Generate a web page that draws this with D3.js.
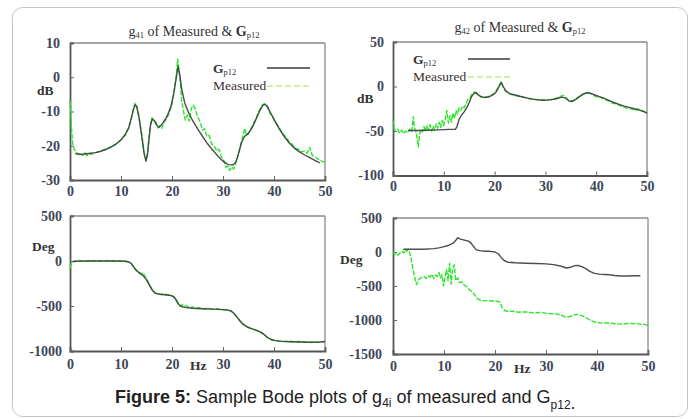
<!DOCTYPE html>
<html>
<head>
<meta charset="utf-8">
<script src="https://cdn.jsdelivr.net/npm/d3@7"></script>
<style>
  body { margin: 0; background: #fff; }
  svg { display: block; }
</style>
</head>
<body>
<svg id="chart" width="696" height="419"></svg>
<script>
// ---- data -------------------------------------------------------------
const freqTicks = [0, 10, 20, 30, 40, 50];

// g41 magnitude (dB): fitted model Gp12 and measured response
const g41MagModel = [[1,-22.3],[2,-22.5],[3,-22.4],[4,-22.2],[5,-22],[6,-21.6],[7,-21.1],[8,-20.4],[9,-19.5],[10,-18.3],[10.8,-16.8],[11.5,-14.8],[12,-12],[12.4,-9.5],[12.8,-8],[13.1,-8.6],[13.5,-11.5],[14,-16.5],[14.5,-22],[14.9,-24.5],[15.2,-22.5],[15.5,-18],[15.8,-14],[16.1,-12.2],[16.5,-12.6],[17,-14],[17.5,-14.6],[18,-13.8],[19,-11.5],[19.8,-8.5],[20.3,-5],[20.8,-0.5],[21.2,3.2],[21.5,1],[21.9,-3.5],[22.5,-7.5],[23.3,-10.5],[24,-12.5],[25,-15],[26,-17.3],[27,-19.5],[28,-21.3],[29,-23],[30,-24.5],[31,-25.5],[32,-25.6],[32.6,-24.5],[33.1,-22],[33.6,-19.2],[34.2,-17.3],[35,-16.4],[35.8,-14.5],[36.5,-12.2],[37.2,-9.8],[37.8,-8.2],[38.2,-7.9],[38.7,-8.5],[39.3,-10.3],[40,-12.3],[41,-15],[42,-17.3],[43,-19.2],[44,-20.7],[45,-21.8],[46,-22.7],[47,-23.5],[48,-24.3],[49,-25]];
const g41MagMeas = [[0,-7],[0.15,-10],[0.3,-15],[0.5,-19],[0.8,-21],[1.2,-21.8],[1.6,-22.6],[2,-22.4],[2.5,-22.8],[3,-21.8],[3.3,-22.9],[3.7,-22.3],[4.2,-22.5],[5,-22],[5.8,-21.7],[6.5,-21.3],[7.3,-20.8],[8,-20.3],[8.8,-19.8],[9.5,-18.9],[10.2,-18],[11,-16.5],[11.6,-14.5],[12,-12.3],[12.4,-9.8],[12.7,-7.6],[13,-8.4],[13.3,-9.8],[13.7,-13],[14.2,-18],[14.6,-22.5],[14.9,-24.3],[15.2,-22],[15.5,-17],[15.8,-13.5],[16.1,-11.8],[16.4,-12.8],[16.8,-13],[17.2,-14.8],[17.6,-14.2],[18,-14.9],[18.5,-13],[19,-12],[19.5,-10.2],[20,-8],[20.4,-4.5],[20.8,0],[21.1,5.3],[21.3,3],[21.6,-1],[21.9,-7],[22.2,-9.5],[22.6,-12.5],[23,-11],[23.4,-12.8],[23.8,-9],[24.2,-8.2],[24.6,-9.5],[25,-11.5],[25.5,-13],[26,-15.5],[26.4,-15],[26.8,-17.2],[27.3,-17],[27.8,-19.5],[28.3,-20.2],[28.8,-21.5],[29.2,-21],[29.7,-23.2],[30.2,-24.5],[30.6,-26.3],[31,-26],[31.3,-27.2],[31.7,-26.2],[32.1,-26.8],[32.5,-25.2],[33,-22.5],[33.5,-19.5],[34,-16.5],[34.3,-15],[34.6,-17],[35.1,-16],[35.7,-14.3],[36.3,-12.6],[37,-10],[37.6,-8.3],[38.1,-7.7],[38.6,-8.4],[39.2,-10.5],[39.8,-11.8],[40.4,-13.5],[41,-14.6],[41.7,-16.5],[42.4,-17.5],[43,-19],[43.6,-19.6],[44.2,-20.8],[44.8,-21],[45.4,-21.8],[46,-21.5],[46.5,-22.2],[47,-20.5],[47.5,-22.8],[48,-23.2],[48.5,-23.8],[49,-24.2],[49.5,-24.6],[50,-24.8]];
const g41MagTicks = [10, 0, -10, -20, -30];

// g42 magnitude (dB)
const g42MagModel = [[3,-49.5],[5,-49.5],[7,-49.2],[9,-48.7],[11,-48.2],[12.3,-48],[12.6,-45],[13,-37],[13.5,-32],[14,-28.5],[14.5,-24],[15,-18],[15.5,-11],[16,-7.5],[16.4,-7],[16.8,-9.5],[17.3,-11.5],[18,-12.5],[18.8,-11.8],[19.5,-10],[20.2,-7],[20.8,-1],[21.3,4.5],[21.7,0],[22.2,-5],[23,-8],[24,-9.5],[25,-11],[26.5,-13],[28,-14.8],[29.5,-15.5],[31,-15],[32.3,-13.5],[33.3,-12],[34,-13],[34.7,-16.5],[35.2,-17],[36,-14.5],[36.8,-11],[37.5,-8.5],[38.2,-7],[38.8,-7.5],[39.5,-9],[40.5,-11],[41.5,-13],[42.5,-15.5],[43.5,-18],[44.5,-20],[45.5,-22],[46.5,-23.5],[47.5,-25],[48.5,-26.5],[49.5,-28.5],[50,-30]];
const g42MagMeas = [[0,-38],[0.2,-47],[0.5,-50],[0.9,-48],[1.3,-52],[1.7,-49],[2.1,-53],[2.5,-50],[2.9,-52],[3.3,-48],[3.7,-51],[4,-34],[4.2,-46],[4.5,-50],[4.8,-60],[5,-68],[5.2,-55],[5.5,-48],[5.8,-51],[6.1,-45],[6.4,-50],[6.7,-44],[7,-49],[7.3,-43],[7.6,-50],[7.9,-45],[8.2,-49],[8.5,-42],[8.8,-47],[9.1,-40],[9.4,-46],[9.7,-38],[10,-44],[10.3,-36],[10.6,-27],[10.9,-41],[11.2,-33],[11.5,-40],[11.8,-30],[12.1,-36],[12.4,-27],[12.7,-31],[13,-24],[13.3,-27],[13.7,-22],[14,-24],[14.4,-19],[14.8,-14],[15.2,-12],[15.6,-8],[16,-6],[16.4,-8],[16.8,-10],[17.3,-11],[17.8,-12],[18.4,-11.5],[19,-11],[19.6,-9],[20.2,-6],[20.8,0],[21.3,5.5],[21.7,-1],[22.1,-5],[22.6,-7],[23.2,-9],[24,-10],[25,-11.5],[26,-12.5],[27,-14],[28,-14.5],[29,-15],[30,-14.8],[31,-14.5],[32,-13.5],[33,-11],[33.6,-10],[34.2,-14],[34.8,-16],[35.4,-16],[36,-14],[36.8,-10.5],[37.5,-8],[38.2,-7],[38.9,-8],[39.6,-10.5],[40.3,-12],[41,-12.5],[41.7,-15],[42.4,-16],[43.1,-18.5],[43.8,-19.5],[44.5,-21],[45.2,-22.5],[45.9,-24],[46.6,-24.5],[47.3,-26],[47.8,-27],[48.2,-25],[48.7,-26.5],[49.2,-27.5],[49.7,-29],[50,-30]];
const g42MagTicks = [50, 0, -50, -100];

// g41 phase (deg)
const g41PhaseModel = [[0.5,-5],[2,0],[5,0],[8,0],[10,0],[11,-3],[11.7,-15],[12.2,-40],[12.8,-90],[13.5,-130],[14.3,-160],[15,-210],[15.6,-270],[16.2,-330],[16.8,-360],[17.5,-370],[18.5,-375],[19.5,-380],[20.3,-395],[20.8,-430],[21.3,-480],[21.8,-505],[22.5,-515],[24,-525],[26,-530],[28,-535],[30,-540],[31,-545],[31.7,-560],[32.3,-590],[33,-640],[33.7,-690],[34.5,-725],[35.3,-745],[36.3,-765],[37.2,-785],[38,-815],[38.7,-850],[39.4,-872],[40.2,-885],[41.5,-893],[43,-897],[45,-900],[47,-902],[49,-900],[50,-895]];
const g41PhaseMeas = [[0,-80],[0.2,-40],[0.4,-15],[0.8,-5],[1.5,0],[2.5,-2],[4,0],[5.5,2],[7,0],[8.5,0],[10,-2],[10.8,-5],[11.5,-10],[12,-30],[12.5,-70],[13,-110],[13.5,-120],[14,-145],[14.3,-130],[14.6,-160],[15.1,-205],[15.6,-265],[16.1,-320],[16.7,-355],[17.3,-365],[18,-370],[18.7,-370],[19.4,-378],[20.1,-385],[20.6,-420],[21.1,-470],[21.6,-500],[22,-485],[22.4,-505],[22.9,-495],[23.4,-520],[24,-510],[24.6,-525],[25.3,-520],[26,-530],[27,-528],[28,-535],[29,-530],[30,-540],[31,-545],[31.6,-555],[32.2,-590],[32.8,-630],[33.5,-680],[34.2,-715],[35,-740],[35.8,-755],[36.6,-770],[37.3,-790],[38,-810],[38.6,-845],[39.3,-870],[40,-880],[41,-888],[42,-893],[43,-890],[44,-898],[45,-893],[46,-900],[47,-905],[48,-898],[49,-903],[50,-893]];
const g41PhaseTicks = [500, 0, -500, -1000];

// g42 phase (deg)
const g42PhaseModel = [[2,40],[4,40],[6,40],[8,50],[9,60],[10,80],[11,100],[11.8,130],[12.4,180],[12.7,210],[13.2,190],[14,175],[14.8,160],[15.3,130],[15.8,80],[16.3,35],[17,20],[18,12],[19,10],[20,0],[20.7,-30],[21.2,-80],[21.8,-125],[22.5,-150],[24,-158],[26,-165],[28,-170],[30,-175],[31.5,-185],[33,-210],[34,-235],[34.8,-225],[35.6,-200],[36.3,-198],[37,-215],[37.8,-245],[38.6,-285],[39.5,-315],[40.5,-325],[41.5,-330],[42.5,-335],[43.5,-345],[44.5,-352],[46,-352],[47.5,-350],[48.5,-350]];
const g42PhaseMeas = [[0,0],[0.3,-40],[0.7,-20],[1,-45],[1.4,-10],[1.8,10],[2.1,-15],[2.4,30],[2.7,10],[3,40],[3.2,10],[3.5,-80],[3.8,-200],[4.1,-320],[4.4,-420],[4.6,-480],[4.9,-420],[5.3,-390],[5.7,-370],[6.1,-360],[6.5,-390],[6.9,-350],[7.3,-370],[7.6,-330],[8,-390],[8.3,-340],[8.7,-360],[9,-300],[9.3,-380],[9.6,-330],[9.9,-500],[10.2,-370],[10.5,-260],[10.8,-420],[11.1,-170],[11.4,-470],[11.7,-240],[12,-190],[12.3,-420],[12.7,-380],[13,-450],[13.5,-440],[14,-490],[14.5,-510],[15,-560],[15.5,-580],[16,-630],[16.5,-680],[17,-705],[17.5,-715],[18.5,-715],[19.5,-720],[20.5,-725],[21,-740],[21.4,-820],[21.9,-860],[22.5,-875],[23.5,-870],[24.5,-885],[26,-880],[27.5,-895],[29,-890],[30.5,-905],[32,-910],[33,-930],[34,-960],[34.8,-945],[35.5,-925],[36.3,-920],[37,-935],[37.8,-965],[38.6,-1000],[39.5,-1030],[40.5,-1040],[41.5,-1045],[42.5,-1045],[43.5,-1055],[44.5,-1060],[45.5,-1055],[46.5,-1050],[47.5,-1055],[48.5,-1060],[49.3,-1065],[50,-1080]];
const g42PhaseTicks = [500, 0, -500, -1000, -1500];

// ---- drawing ------------------------------------------------------------
const svg = d3.select("#chart");
const SERIF = "'Liberation Serif', 'Times New Roman', serif";
const SANS = "'Liberation Sans', Arial, sans-serif";
const MODEL_COLOR = "#3a3a3a";
const MEAS_COLOR = "#2be62b";

// outer figure frame
svg.append("rect")
  .attr("x", 12.5).attr("y", 7.5).attr("width", 675).attr("height", 409)
  .attr("rx", 10).attr("fill", "#fff").attr("stroke", "#c4c4c4").attr("stroke-width", 1);

function drawPanel(p) {
  const x = d3.scaleLinear().domain([0, 50]).range([p.left, p.right]);
  const y = d3.scaleLinear().domain([p.yTicks[p.yTicks.length - 1], p.yTicks[0]]).range([p.bottom, p.top]);
  const g = svg.append("g");

  // plot frame: light top/right, darker left/bottom
  g.append("line").attr("x1", p.left).attr("x2", p.right).attr("y1", p.top).attr("y2", p.top)
    .attr("stroke", "#8a8a8a").attr("stroke-width", 1.3);
  g.append("line").attr("x1", p.right).attr("x2", p.right).attr("y1", p.top).attr("y2", p.bottom)
    .attr("stroke", "#8a8a8a").attr("stroke-width", 1.3);

  const xAxis = g.append("g").attr("transform", `translate(0,${p.bottom})`)
    .call(d3.axisBottom(x).tickValues(freqTicks).tickSize(-4).tickPadding(p.xPad).tickFormat(d3.format("d")));
  const yAxis = g.append("g").attr("transform", `translate(${p.left},0)`)
    .call(d3.axisLeft(y).tickValues(p.yTicks).tickSize(-4).tickPadding(p.yPad).tickFormat(d3.format("d")));
  [xAxis, yAxis].forEach(a => {
    a.select(".domain").attr("stroke", "#555").attr("stroke-width", 1.8);
    a.selectAll(".tick line").attr("stroke", "#666").attr("stroke-width", 1);
    a.selectAll(".tick text")
      .attr("font-family", SERIF).attr("font-weight", "bold").attr("font-size", 14)
      .attr("fill", "#3d4656");
  });
  yAxis.selectAll(".tick text").text(d => d < 0 ? "-" + Math.abs(d) : d);

  const line = d3.line().x(d => x(d[0])).y(d => y(d[1]));
  g.append("path").datum(p.meas).attr("d", line)
    .attr("fill", "none").attr("stroke", MEAS_COLOR).attr("stroke-width", 1.4)
    .attr("stroke-dasharray", "5,1.5").attr("stroke-linejoin", "round");
  g.append("path").datum(p.model).attr("d", line)
    .attr("fill", "none").attr("stroke", MODEL_COLOR).attr("stroke-width", 1.4)
    .attr("stroke-opacity", 0.9).attr("stroke-linejoin", "round");

  // unit label
  g.append("text").attr("x", p.unitX).attr("y", p.unitY)
    .attr("font-family", SERIF).attr("font-weight", "bold").attr("font-size", 13.5)
    .attr("fill", "#333").text(p.unit);

  if (p.hzX) {
    g.append("text").attr("x", p.hzX).attr("y", p.hzY)
      .attr("font-family", SERIF).attr("font-weight", "bold").attr("font-size", 13.5)
      .attr("fill", "#333").text("Hz");
  }

  if (p.title) {
    const t = g.append("text").attr("x", p.titleX).attr("y", p.titleY)
      .attr("text-anchor", "middle").attr("font-family", SERIF).attr("font-size", 14).attr("fill", "#333");
    t.append("tspan").text("g");
    t.append("tspan").attr("font-size", 8.5).attr("dy", 2).text(p.title);
    t.append("tspan").attr("dy", -2).text(" of Measured & ");
    t.append("tspan").attr("font-weight", "bold").text("G");
    t.append("tspan").attr("font-size", 8.5).attr("dy", 2).text("p12");
  }

  if (p.legend) {
    const L = p.legend;
    const lt = g.append("text").attr("x", L.x).attr("y", L.y1)
      .attr("font-family", SERIF).attr("font-size", 13.5).attr("fill", "#333");
    lt.append("tspan").attr("font-weight", "bold").text("G");
    lt.append("tspan").attr("font-size", 8.5).attr("dy", 2).text("p12");
    g.append("text").attr("x", L.x).attr("y", L.y2)
      .attr("font-family", SERIF).attr("font-size", 13.5).attr("fill", "#3b3030").text("Measured");
    g.append("line").attr("x1", L.lx1).attr("x2", L.lx2).attr("y1", L.y1 - 5).attr("y2", L.y1 - 5)
      .attr("stroke", MODEL_COLOR).attr("stroke-width", 1.6);
    g.append("line").attr("x1", L.lx1).attr("x2", L.lx2).attr("y1", L.y2 - 4).attr("y2", L.y2 - 4)
      .attr("stroke", "#c6e88a").attr("stroke-width", 1.6).attr("stroke-dasharray", "6,3");
  }
}

drawPanel({
  left: 70, right: 325, top: 43, bottom: 180, yTicks: g41MagTicks,
  model: g41MagModel, meas: g41MagMeas, xPad: 6, yPad: 10,
  unit: "dB", unitX: 37, unitY: 95,
  title: "41", titleX: 194, titleY: 36,
  legend: { x: 213, y1: 73, y2: 90, lx1: 267, lx2: 310 }
});
drawPanel({
  left: 393, right: 647, top: 42, bottom: 175.5, yTicks: g42MagTicks,
  model: g42MagModel, meas: g42MagMeas, xPad: 6, yPad: 9,
  unit: "dB", unitX: 357, unitY: 103,
  title: "42", titleX: 520, titleY: 32,
  legend: { x: 413, y1: 64, y2: 81, lx1: 468, lx2: 510 }
});
drawPanel({
  left: 70, right: 325, top: 216, bottom: 351, yTicks: g41PhaseTicks,
  model: g41PhaseModel, meas: g41PhaseMeas, xPad: 8, yPad: 8,
  unit: "Deg", unitX: 32, unitY: 251,
  hzX: 190, hzY: 370
});
drawPanel({
  left: 393, right: 648, top: 218, bottom: 354, yTicks: g42PhaseTicks,
  model: g42PhaseModel, meas: g42PhaseMeas, xPad: 7, yPad: 11,
  unit: "Deg", unitX: 340, unitY: 264,
  hzX: 514, hzY: 373
});

// caption
const cap = svg.append("text").attr("x", 115).attr("y", 403)
  .attr("font-family", SANS).attr("font-size", 18).attr("fill", "#222");
cap.append("tspan").attr("font-weight", "bold").text("Figure 5:");
cap.append("tspan").text(" Sample Bode plots of g");
cap.append("tspan").attr("font-size", 12).attr("dy", 4).text("4i");
cap.append("tspan").attr("dy", -4).text(" of measured and G");
cap.append("tspan").attr("font-size", 12).attr("dy", 6).text("p12");
cap.append("tspan").text(".");
</script>
</body>
</html>
